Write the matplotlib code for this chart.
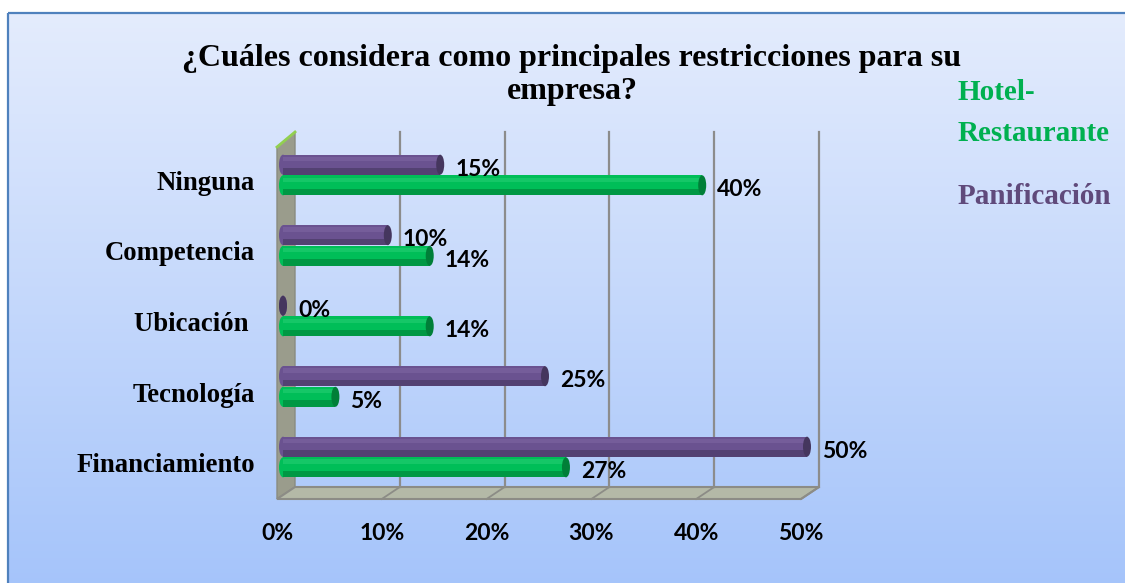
import matplotlib
matplotlib.use("Agg")
import matplotlib.pyplot as plt
import numpy as np
from matplotlib.patches import Polygon, Ellipse
from matplotlib import transforms as mtrans

# ---------------- data ----------------
categories = ["Ninguna", "Competencia", "Ubicación ", "Tecnología", "Financiamiento"]
series_names = ["Hotel-\nRestaurante", "Panificación"]
hotel = [40, 14, 14, 5, 27]
panif = [15, 10, 0, 25, 50]
ticks = [0, 10, 20, 30, 40, 50]
tick_labels = ["0%", "10%", "20%", "30%", "40%", "50%"]
title = "¿Cuáles considera como principales restricciones para su\nempresa?"

# ---------------- layout ----------------
W, H, DPI = 1125, 583, 100
x0px, sx = 283.0, 10.48       # pixel of 0% and pixels per percent (bars)
y0px, sy = 175.0, 70.5        # pixel of first category and pixels per category

GREEN = "#00b050"
PURPLE = "#604a7b"
SERIF = ["Liberation Serif", "DejaVu Serif"]
SANS = ["Lato", "DejaVu Sans"]

fig = plt.figure(figsize=(W / DPI, H / DPI), dpi=DPI)
fig.patch.set_facecolor("white")

# background axes in pixel coordinates
bg = fig.add_axes([0, 0, 1, 1])
top = np.array([228, 236, 253]) / 255
bot = np.array([165, 196, 250]) / 255
t = np.linspace(0, 1, 256)[:, None]
grad = (top * (1 - t) + bot * t)[:, None, :]
bg.imshow(grad, extent=(8, W + 5, H + 5, 13), aspect="auto", zorder=0,
          interpolation="bilinear")
bg.set_xlim(0, W)
bg.set_ylim(H, 0)
bg.axis("off")
bg.plot([8, 8], [H + 5, 13], color="#4f81bd", lw=1.6, zorder=1, solid_capstyle="butt")
bg.plot([8, W + 5], [13, 13], color="#4f81bd", lw=1.6, zorder=1, solid_capstyle="butt")


def px(v):
    return x0px + sx * v


back_dx, front_dx = 12, -6
grid_top, floor_back, floor_front = 132, 487, 499

# wall
bg.add_patch(Polygon([(px(0) + front_dx, 147), (px(0) + back_dx, grid_top),
                      (px(0) + back_dx, floor_back), (px(0) + front_dx, floor_front)],
                     closed=True, facecolor="#9a9c8c", edgecolor="#8a8c80", lw=1, zorder=2))
bg.plot([px(0) + front_dx, px(0) + back_dx], [147, grid_top], color="#92d050", lw=2, zorder=3)
# floor
bg.add_patch(Polygon([(px(0) + front_dx, floor_front), (px(ticks[-1]) + front_dx, floor_front),
                      (px(ticks[-1]) + back_dx, floor_back), (px(0) + back_dx, floor_back)],
                     closed=True, facecolor="#b4b9a7", edgecolor="#8c8c86", lw=1.5, zorder=2))
# gridlines + floor diagonals
for tk in ticks:
    if tk > 0:
        bg.plot([px(tk) + back_dx] * 2, [grid_top, floor_back], color="#8c8c8c", lw=1.6, zorder=2.5)
        bg.plot([px(tk) + back_dx, px(tk) + front_dx], [floor_back, floor_front],
                color="#8c8c86", lw=1.3, zorder=2.5)

# data axes (full figure, mapped so data maps to pixels)
ax = fig.add_axes([0, 0, 1, 1])
ax.patch.set_alpha(0)
ax.set_xlim(-x0px / sx, (W - x0px) / sx)
ax.set_ylim((H - y0px) / sy, -y0px / sy)
ax.axis("off")

h = 20 / sy
off = 10.3 / sy
capw = 8 / sx


def cylinder(v, y, main, dark, light):
    ax.add_patch(Ellipse((0, y), capw, h, facecolor=main, edgecolor="none", zorder=3))
    ax.barh(y, v, height=h, left=0, color=main, zorder=3.1)
    ax.barh(y - h * 0.28, v, height=h * 0.22, color=light, alpha=0.35, zorder=3.2)
    ax.barh(y + h * 0.34, v, height=h * 0.32, color=dark, alpha=0.6, zorder=3.2)
    ax.add_patch(Ellipse((v, y), capw, h, facecolor=dark, edgecolor="none", zorder=3.3))


for i, (hv, pv) in enumerate(zip(hotel, panif)):
    yp, yg = i - off, i + off
    cylinder(pv, yp, "#6a5290", "#45365e", "#8a74ad")
    cylinder(hv, yg, "#00be58", "#007f38", "#3fd884")
    for v, y in ((pv, yp), (hv, yg)):
        ax.annotate(f"{v}%", (v, y), xytext=(15, -11), textcoords="offset pixels",
                    ha="left", va="baseline", fontsize=16.5, fontweight="bold",
                    family=SANS, color="black", zorder=5)

# category labels
cat_tr = mtrans.blended_transform_factory(bg.transData, ax.transData) + \
    mtrans.ScaledTranslation(0, -15 / DPI, fig.dpi_scale_trans)
for i, c in enumerate(categories):
    ax.text(255, i, c, transform=cat_tr, ha="right", va="baseline", fontsize=19.3,
            fontweight="bold", family=SERIF, color="black")

# x tick labels
tk_tr = mtrans.blended_transform_factory(ax.transData, bg.transData) + \
    mtrans.ScaledTranslation(front_dx / DPI, 0, fig.dpi_scale_trans)
for tk, lab in zip(ticks, tick_labels):
    ax.text(tk, 533, lab, transform=tk_tr, ha="center", va="center", fontsize=16.5,
            fontweight="bold", family=SANS, color="black")

# title
bg.text(572, 75, title, ha="center", va="center", fontsize=23, fontweight="bold",
        family=SERIF, color="black", linespacing=1.2, zorder=5)

# legend (text only)
bg.text(958, 113, series_names[0], ha="left", va="center", fontsize=21, fontweight="bold",
        family=SERIF, color=GREEN, linespacing=1.62, zorder=5)
bg.text(958, 197, series_names[1], ha="left", va="center", fontsize=21, fontweight="bold",
        family=SERIF, color=PURPLE, zorder=5)

fig.savefig("out.png", dpi=DPI)
